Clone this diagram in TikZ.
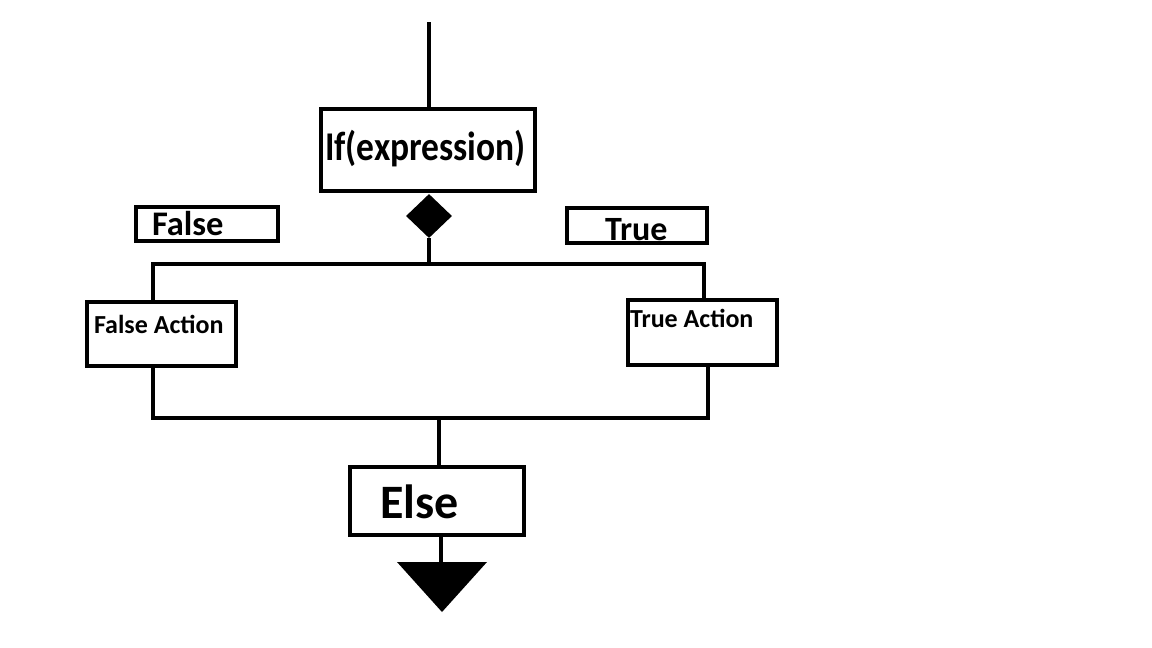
\documentclass[tikz,border=0pt]{standalone}
\usepackage{fontspec}
\setmainfont{Carlito}
\usetikzlibrary{shapes.geometric}
\tikzset{
  box/.style={draw=black, line width=4pt, fill=white, rectangle, inner sep=0pt, outer sep=0pt},
  lbl/.style={inner sep=0pt, outer sep=0pt, anchor=base west, font=\bfseries},
  conn/.style={draw=black, line width=4pt},
  decision/.style={diamond, fill=black, draw=none, inner sep=0pt, minimum width=46pt, minimum height=44pt}
}
\begin{document}
\begin{tikzpicture}[x=1pt, y=-1pt]
\useasboundingbox (0,0) rectangle (1152,648);
% boxes
\node[box, minimum width=214pt, minimum height=82pt] (ifbox) at (428,150) {};
\node[box, minimum width=142pt, minimum height=34pt] (fbox) at (207,224) {};
\node[box, minimum width=140pt, minimum height=35pt] (tbox) at (637,225.5) {};
\node[box, minimum width=149pt, minimum height=64pt] (fa) at (161.5,334) {};
\node[box, minimum width=149pt, minimum height=65pt] (ta) at (702.5,332.5) {};
\node[box, minimum width=174pt, minimum height=68pt] (eb) at (437,501) {};
\node[decision] (dec) at (429,216) {};
% texts
\node[lbl, font=\bfseries\fontsize{35.5}{40}\selectfont] (iftxt) at (325,160) {\scalebox{1}[1.15]{If(expression)}};
\node[lbl, font=\bfseries\fontsize{34.5}{38}\selectfont] (ftxt) at (152,235) {False};
\node[lbl, font=\bfseries\fontsize{34}{38}\selectfont] (ttxt) at (605,240) {True};
\node[lbl, font=\bfseries\fontsize{26}{30}\selectfont] (fatxt) at (94,333) {False Action};
\node[lbl, font=\bfseries\fontsize{26}{30}\selectfont] (tatxt) at (630,327) {True Action};
\node[lbl, font=\bfseries\fontsize{48}{50}\selectfont] (etxt) at (380,518) {Else};
% coordinates
\coordinate (start) at (429,22);
\coordinate (jt) at (429,264);
\coordinate (tl) at (153,264);
\coordinate (tr) at (704,264);
\coordinate (bl) at (153,418);
\coordinate (br) at (708,418);
\coordinate (bm) at (439,418);
\coordinate (ea) at (441,537);
\coordinate (triA) at (397,562);
\coordinate (triB) at (487,562);
\coordinate (triC) at (442,612);
\coordinate (triTop) at (441,562);
% connectors
\draw[conn] (start) -- (start |- ifbox.north);
\draw[conn] (dec.south) -- (jt);
\draw[conn] (fa.north -| tl) -- (tl) -- (tr) -- (ta.north -| tr);
\draw[conn] (fa.south -| bl) -- (bl) -- (br) -- (ta.south -| br);
\draw[conn] (bm) -- (bm |- eb.north);
\draw[conn] (eb.south -| ea) -- (triTop);
\fill[black] (triA) -- (triB) -- (triC) -- cycle;
\end{tikzpicture}
\end{document}
